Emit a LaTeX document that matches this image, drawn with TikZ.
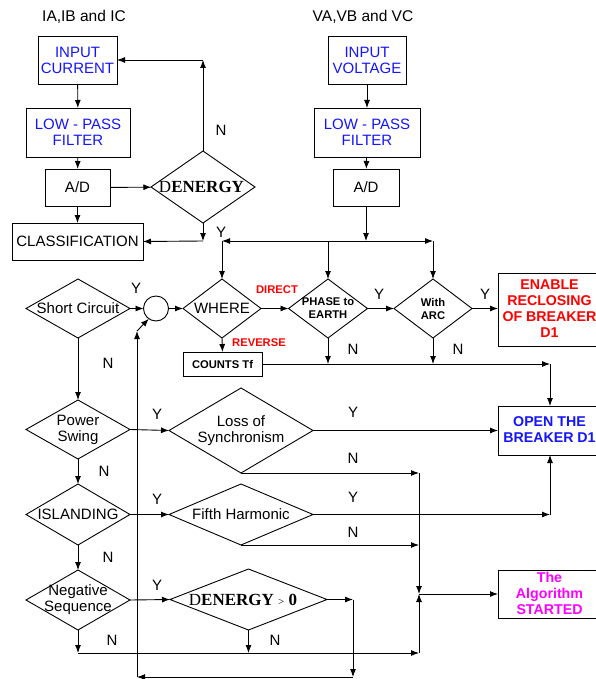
\documentclass[tikz,border=0pt]{standalone}
\usepackage{fontspec}
\setmainfont{Liberation Sans}
\newfontfamily\serifb{Liberation Serif}
\usetikzlibrary{arrows.meta,shapes.geometric}
\definecolor{tblue}{RGB}{20,20,255}
\definecolor{tred}{RGB}{255,0,0}
\definecolor{tmag}{RGB}{255,0,255}
\begin{document}
\begin{tikzpicture}[x=1pt,y=-1pt,
  every node/.style={inner sep=0pt, outer sep=0pt},
  box/.style={draw, line width=0.9pt, rectangle},
  dia/.style={draw, line width=0.9pt, diamond},
  lbl/.style={font=\fontsize{15}{16}\selectfont, align=center},
  blbl/.style={font=\fontsize{14.2}{16}\selectfont\bfseries, align=center},
  sbl/.style={font=\fontsize{11.2}{13}\selectfont\bfseries, align=center},
  yn/.style={font=\fontsize{15}{17}\selectfont},
  arr/.style={line width=0.9pt, -{Latex[length=8pt,width=6pt]}},
  ln/.style={line width=0.9pt},
]
\useasboundingbox (0,0) rectangle (596,679);

% headers
\node[font=\fontsize{15.5}{18}\selectfont] (hI) at (84,17) {IA,IB and IC};
\node[font=\fontsize{15.5}{18}\selectfont] (hV) at (363,17) {VA,VB and VC};

% left column boxes
\node[box, minimum width=79, minimum height=48] (cur) at (77.5,60) {};
\node[lbl, text=tblue] (curt) at (cur) {INPUT\\CURRENT};
\node[box, minimum width=104, minimum height=49] (lpf1) at (78,132.5) {};
\node[lbl, text=tblue] (lpf1t) at (lpf1) {LOW - PASS\\FILTER};
\node[box, minimum width=65, minimum height=37] (ad1) at (77.5,187.5) {};
\node[lbl] (ad1t) at (ad1) {A/D};
\node[box, minimum width=131, minimum height=37] (cls) at (77.5,241.5) {};
\node[lbl] (clst) at (cls) {CLASSIFICATION};

% right column boxes
\node[box, minimum width=78, minimum height=48] (vol) at (367,60) {};
\node[lbl, text=tblue] (volt) at (vol) {INPUT\\VOLTAGE};
\node[box, minimum width=106, minimum height=49] (lpf2) at (367,132.5) {};
\node[lbl, text=tblue] (lpf2t) at (lpf2) {LOW - PASS\\FILTER};
\node[box, minimum width=66, minimum height=37] (ad2) at (366,187.5) {};
\node[lbl] (ad2t) at (ad2) {A/D};

% DENERGY diamond
\node[dia, minimum width=104, minimum height=72] (d1) at (203,187) {};
\node[font=\fontsize{17}{18}\selectfont\serifb] (d1t) at (201.5,187) {D\textbf{ENERGY}};

% row of decisions
\node[dia, minimum width=104, minimum height=59] (sc) at (78,308.5) {};
\node[lbl] (sct) at (sc) {Short Circuit};
\node[draw, line width=0.9pt, circle, minimum size=25] (circ) at (156,308.5) {};
\node[dia, minimum width=78, minimum height=59] (where) at (222,308.5) {};
\node[lbl] (wheret) at (where) {WHERE};
\node[dia, minimum width=79, minimum height=59] (pe) at (328,308.5) {};
\node[sbl] (pet) at (pe) {PHASE to\\EARTH};
\node[dia, minimum width=78, minimum height=59] (arc) at (433,308.5) {};
\node[sbl] (arct) at (arc) {With\\ARC};
\node[box, minimum width=104, minimum height=73] (en) at (550,309.5) {};
\node[blbl, text=tred] (ent) at (549.5,308.5) {ENABLE\\RECLOSING\\OF BREAKER\\D1};
\node[box, minimum width=79, minimum height=24] (ct) at (222.5,364) {};
\node[sbl] (ctt) at (ct) {COUNTS Tf};

\node[box, minimum width=104, minimum height=49] (op) at (550,430.5) {};
\node[blbl, text=tblue] (opt) at (549.5,429.5) {OPEN THE\\BREAKER D1};

\node[dia, minimum width=104, minimum height=59] (ps) at (78,429.5) {};
\node[lbl] (pst) at (ps) {Power\\Swing};
\node[dia, minimum width=144, minimum height=85] (loss) at (241,430.5) {};
\node[lbl] (losst) at (loss) {Loss of\\Synchronism};

\node[dia, minimum width=104, minimum height=61] (isl) at (78,514.5) {};
\node[lbl] (islt) at (isl) {ISLANDING};
\node[dia, minimum width=144, minimum height=61] (fifth) at (241,514.5) {};
\node[lbl] (fiftht) at (fifth) {Fifth Harmonic};

\node[dia, minimum width=104, minimum height=60] (neg) at (78,600) {};
\node[lbl] (negt) at (neg) {Negative\\Sequence};
\node[dia, minimum width=157, minimum height=61] (d2) at (248.5,599.5) {};
\node[font=\fontsize{17}{18}\selectfont\serifb] (d2t) at (243,599.5) {D\textbf{ENERGY} {\fontsize{11}{11}\selectfont >} \textbf{0}};

\node[box, minimum width=104, minimum height=48] (alg) at (550,594) {};
\node[blbl, text=tmag] (algt) at (549.5,593) {The\\Algorithm\\STARTED};

% coordinates
\coordinate (c1) at (203,60);
\coordinate (c2) at (203,241);
\coordinate (c3) at (366,241);
\coordinate (c4) at (222,241);
\coordinate (c5) at (433,241);
\coordinate (c6) at (550,364);
\coordinate (c7) at (419,473);
\coordinate (c8) at (550,514.5);
\coordinate (c9) at (78,653);
\coordinate (c10) at (419,653);
\coordinate (c11) at (419,594);
\coordinate (c12) at (353,599.5);
\coordinate (c13) at (353,677);
\coordinate (c14) at (137,677);
\coordinate (c15) at (137,331);

% left column connectors
\draw[arr] (cur) -- (lpf1);
\draw[arr] (lpf1) -- (ad1);
\draw[arr] (ad1) -- (cls);
\draw[arr] (ad1) -- (d1);
\draw[arr] (d1.north) -- (c1);
\draw[arr] (c1) -- (cur.east);
\draw[arr] (d1.south) -- (c2);
\draw[arr] (c2) -- (cls.east);

% right column connectors
\draw[arr] (vol) -- (lpf2);
\draw[arr] (lpf2) -- (ad2);
\draw[arr] (ad2.south) -- (c3);
\draw[arr] (c3) -- (c4);
\draw[arr] (c3) -- (c5);
\draw[arr] (c4) -- (where.north);
\draw[arr] (pe.north |- c3) -- (pe.north);
\draw[arr] (c5) -- (arc.north);

% decision row
\draw[arr] (sc.east) -- (circ.west);
\draw[arr] (circ.east) -- (where.west);
\draw[arr] (where.east) -- (pe.west);
\draw[arr] (pe.east) -- (arc.west);
\draw[arr] (arc.east) -- (arc.east -| en.west);
\draw[arr] (where.south) -- (ct.north);
\draw[arr] (ct.east) -- (c6);
\draw[arr] (c6) -- (op.north);
\draw[arr] (pe.south) -- (pe.south |- ct.east);
\draw[arr] (arc.south) -- (arc.south |- ct.east);

% left chain
\draw[arr] (sc.south) -- (ps.north);
\draw[arr] (ps.south) -- (isl.north);
\draw[arr] (isl.south) -- (neg.north);
\draw[arr] (ps.east) -- (loss.west);
\draw[arr] (loss.east) -- (loss.east -| op.west);
\draw[arr] (loss.south) -- (c7);
\draw[arr] (isl.east) -- (fifth.west);
\draw[arr] (fifth.east) -- (c8);
\draw[arr] (c8) -- (op.south);
\draw[arr] (fifth.south) -- (fifth.south -| c7);
\draw[arr] (neg.east) -- (d2.west);
\draw[arr] (neg.south) -- (c9);
\draw[arr] (c9) -- (c10);
\draw[arr] (d2.south) -- (d2.south |- c9);
\draw[arr] (c7) -- (c11);
\draw[arr] (c10) -- (c11);
\draw[arr] (c11) -- (alg.west);
\draw[arr] (d2.east) -- (c12);
\draw[arr] (c12) -- (c13);
\draw[arr] (c13) -- (c14);
\draw[arr] (c14) -- (c15);
\draw[arr] (c15) -- (circ.-125);

% Y / N labels
\node[yn] (n1) at (221,130) {N};
\node[yn] (y1) at (221,232) {Y};
\node[yn] (y2) at (136,288) {Y};
\node[sbl, text=tred] (dir) at (277,290) {DIRECT};
\node[sbl, text=tred] (rev) at (259,343) {REVERSE};
\node[yn] (y3) at (379,294) {Y};
\node[yn] (y4) at (485,294) {Y};
\node[yn] (n2) at (353,349) {N};
\node[yn] (n3) at (458,349) {N};
\node[yn] (n4) at (108,363) {N};
\node[yn] (y5) at (157,414) {Y};
\node[yn] (y6) at (353,412) {Y};
\node[yn] (n5) at (353,458) {N};
\node[yn] (n6) at (104,471) {N};
\node[yn] (y7) at (157,499) {Y};
\node[yn] (y8) at (353,497) {Y};
\node[yn] (n7) at (353,532) {N};
\node[yn] (n8) at (108,557) {N};
\node[yn] (y9) at (157,585) {Y};
\node[yn] (n9) at (112,640) {N};
\node[yn] (n10) at (275,640) {N};
\end{tikzpicture}
\end{document}
